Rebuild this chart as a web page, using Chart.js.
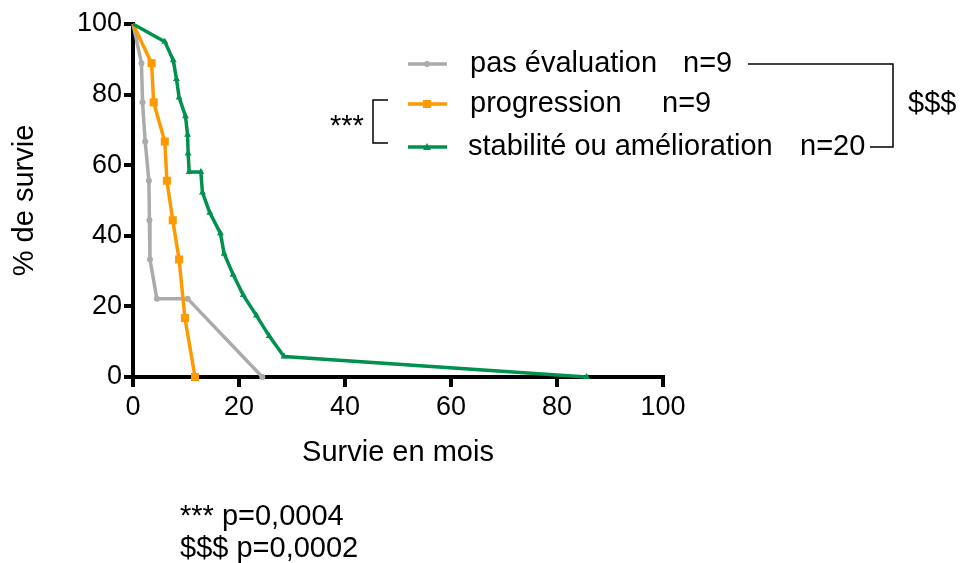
<!DOCTYPE html>
<html lang="fr">
<head>
<meta charset="utf-8">
<title>Survie</title>
<script src="https://cdn.jsdelivr.net/npm/chart.js@4"></script>
<style>
  body { margin: 0; background: #fff; }
  #wrap { width: 960px; height: 563px; position: relative; }
</style>
</head>
<body>
<div id="wrap"><canvas id="survieChart"></canvas></div>
<script>
const FONT = "'Liberation Sans', Arial, sans-serif";

// survie (mois) et % de survie pour chaque groupe
const pasEvalMois = [0, 1.6, 1.8, 2.3, 3.0, 3.1, 3.2, 4.5, 10.3, 24.4];
const pasEvalSurvie = [100, 88.9, 77.8, 66.7, 55.6, 44.4, 33.3, 22.2, 22.2, 0];

const progressionMois = [0, 3.5, 3.9, 6.0, 6.4, 7.5, 8.7, 9.8, 11.7];
const progressionSurvie = [100, 88.9, 77.8, 66.7, 55.6, 44.4, 33.3, 16.7, 0];

const stabiliteMois = [0, 6.0, 7.6, 8.2, 8.7, 9.9, 10.3, 10.4, 10.6, 12.8, 13.1, 14.5, 16.5, 17.2, 18.9, 20.8, 23.3, 25.7, 28.5, 85.6];
const stabiliteSurvie = [100, 95, 89.7, 84.4, 79.2, 73.9, 68.6, 63.3, 58.1, 58.1, 52.3, 46.5, 40.7, 34.9, 29.0, 23.2, 17.4, 11.6, 5.8, 0];

const groupes = ["pas évaluation", "progression", "stabilité ou amélioration"];
const effectifs = ["n=9", "n=9", "n=20"];
const couleurs = ["#ababab", "#ff9900", "#00914f"];
const marqueurs = ["circle", "rect", "triangle"];

const xTicks = [0, 20, 40, 60, 80, 100];
const yTicks = [0, 20, 40, 60, 80, 100];

const toPoints = (xs, ys) => xs.map((x, i) => ({ x: x, y: ys[i] }));

function drawMarker(ctx, style, x, y, color) {
  ctx.fillStyle = color;
  ctx.beginPath();
  if (style === "circle") {
    ctx.arc(x, y, 3, 0, Math.PI * 2);
  } else if (style === "rect") {
    ctx.rect(x - 4, y - 4, 8, 8);
  } else {
    ctx.moveTo(x, y - 4);
    ctx.lineTo(x + 4, y + 3);
    ctx.lineTo(x - 4, y + 3);
    ctx.closePath();
  }
  ctx.fill();
}

// légende, accolades de comparaison et valeurs de p
const annotations = {
  id: "annotations",
  afterDraw(chart) {
    const ctx = chart.ctx;
    const rows = [64, 104, 147];
    const nX = [683, 662, 800];
    ctx.save();
    ctx.font = "29px " + FONT;
    ctx.textBaseline = "middle";
    ctx.textAlign = "left";
    rows.forEach((y, i) => {
      ctx.strokeStyle = couleurs[i];
      ctx.lineWidth = 3.5;
      ctx.beginPath();
      ctx.moveTo(408, y);
      ctx.lineTo(447, y);
      ctx.stroke();
      drawMarker(ctx, marqueurs[i], 427, y, couleurs[i]);
      ctx.fillStyle = "#000";
      ctx.fillText(groupes[i], i === 2 ? 468 : 470, y);
      ctx.fillText(effectifs[i], nX[i], y);
    });

    ctx.strokeStyle = "#000";
    ctx.lineWidth = 1.5;
    // pas évaluation vs stabilité
    ctx.beginPath();
    ctx.moveTo(748, 64);
    ctx.lineTo(893, 64);
    ctx.lineTo(893, 147);
    ctx.lineTo(870, 147);
    ctx.stroke();
    // progression vs stabilité
    ctx.beginPath();
    ctx.moveTo(388, 100);
    ctx.lineTo(373, 100);
    ctx.lineTo(373, 143);
    ctx.lineTo(388, 143);
    ctx.stroke();

    ctx.fillText("$$$", 908, 104);
    ctx.fillText("***", 330, 127);
    ctx.fillText("*** p=0,0004", 180, 517);
    ctx.fillText("$$$ p=0,0002", 180, 549);
    ctx.restore();
  }
};

const datasets = [
  { data: toPoints(pasEvalMois, pasEvalSurvie), order: 2 },
  { data: toPoints(progressionMois, progressionSurvie), order: 1 },
  { data: toPoints(stabiliteMois, stabiliteSurvie), order: 0 }
].map((d, i) => ({
  label: groupes[i],
  data: d.data,
  order: d.order,
  showLine: true,
  tension: 0,
  borderColor: couleurs[i],
  backgroundColor: couleurs[i],
  borderWidth: 3.5,
  pointStyle: marqueurs[i],
  pointRadius: (c) => (c.dataIndex === 0 ? 0 : [3, 5.7, 4][i]),
  pointBorderWidth: 0,
  clip: false
}));

new Chart(document.getElementById("survieChart"), {
  type: "scatter",
  data: { datasets: datasets },
  options: {
    responsive: true,
    maintainAspectRatio: false,
    animation: false,
    layout: { padding: { top: 24, right: 297, bottom: 0, left: 0 } },
    plugins: { legend: { display: false }, tooltip: { enabled: false } },
    scales: {
      x: {
        type: "linear",
        min: 0,
        max: 100,
        afterFit: (scale) => { scale.height = 186; },
        afterBuildTicks: (scale) => { scale.ticks = xTicks.map((v) => ({ value: v })); },
        border: { display: true, color: "#000", width: 4 },
        grid: { drawOnChartArea: false, drawTicks: true, tickLength: 10, color: "#000", lineWidth: 4 },
        ticks: { color: "#000", font: { family: FONT, size: 27 }, padding: 4, maxRotation: 0 },
        title: {
          display: true,
          text: "Survie en mois",
          color: "#000",
          font: { family: FONT, size: 29 },
          padding: { top: 0, bottom: 93 }
        }
      },
      y: {
        type: "linear",
        min: 0,
        max: 100,
        afterFit: (scale) => { scale.width = 133; },
        afterBuildTicks: (scale) => { scale.ticks = yTicks.map((v) => ({ value: v })); },
        border: { display: true, color: "#000", width: 4 },
        grid: { drawOnChartArea: false, drawTicks: true, tickLength: 9, color: "#000", lineWidth: 4 },
        ticks: { color: "#000", font: { family: FONT, size: 27 }, padding: 2 },
        title: {
          display: true,
          text: "% de survie",
          color: "#000",
          font: { family: FONT, size: 29 },
          padding: { top: 8, bottom: 0 }
        }
      }
    }
  },
  plugins: [annotations]
});
</script>
</body>
</html>
